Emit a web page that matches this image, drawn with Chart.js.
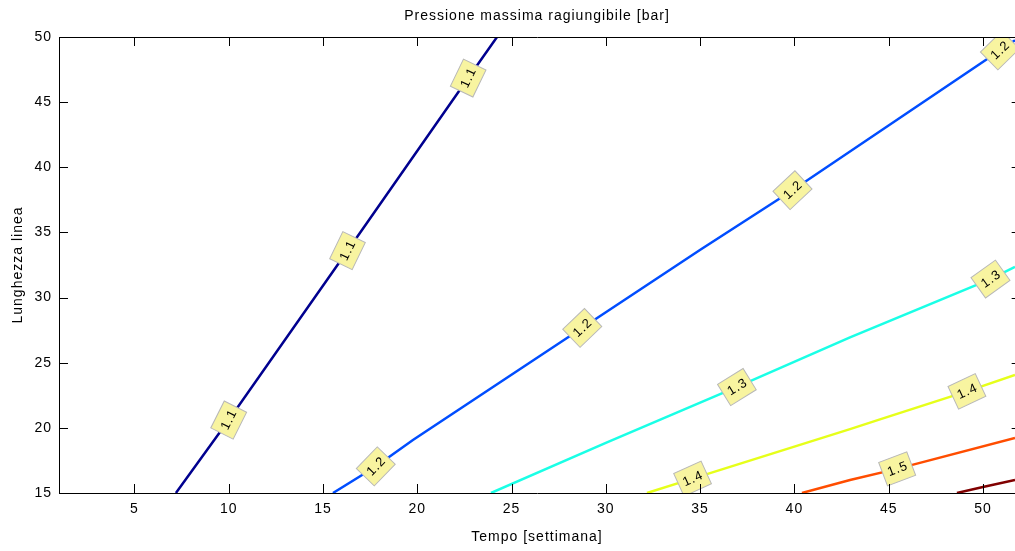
<!DOCTYPE html>
<html>
<head>
<meta charset="utf-8">
<script src="https://cdn.jsdelivr.net/npm/chart.js@4.4.1/dist/chart.umd.min.js"></script>
<style>
	html, body { margin: 0; padding: 0; background: #fff; }
	#wrap { width: 1015px; height: 551px; }
</style>
</head>
<body>
<div id="wrap"><canvas id="chart" width="1015" height="551"></canvas></div>
<script>
'use strict';

const xTicks = [5, 10, 15, 20, 25, 30, 35, 40, 45, 50];
const yTicks = [15, 20, 25, 30, 35, 40, 45, 50];
const xMin = 1, xMax = 51.7, xFullMax = 52;   // right side of the original axes is cut off
const yMin = 15, yMax = 50;

const levels = ['1.1', '1.2', '1.3', '1.4', '1.5', '1.6'];
const levelColors = ['#00008f', '#004dff', '#1affe6', '#e6ff1a', '#ff4d00', '#800000'];

// contour lines (x = week, y = line length)
const c11x = [7.2, 10.0, 16.3, 22.7, 24.23];
const c11y = [15, 20.6, 33.6, 46.85, 50];
const c12x = [15.53, 17.76, 19.77, 28.74, 34.99, 39.92, 51.7];
const c12y = [15, 17.0, 19.07, 27.66, 33.65, 38.26, 49.75];
const c13x = [23.91, 30.0, 36.96, 42.95, 50.37, 51.7];
const c13y = [15, 18.84, 23.14, 26.95, 31.4, 32.35];
const c14x = [32.18, 34.6, 42.95, 44.54, 49.15, 51.7];
const c14y = [15, 16.1, 19.9, 20.65, 22.8, 24.06];
const c15x = [40.4, 42.95, 45.44, 51.7];
const c15y = [15, 16.0, 16.85, 19.22];
const c16x = [48.62, 50.0, 51.7];
const c16y = [15, 15.46, 16.0];

// where the clabel boxes sit (x position along each line)
const lab11 = [10.0, 16.3, 22.7];
const lab12 = [17.8, 28.75, 39.9, 50.9];
const lab13 = [36.95, 50.4];
const lab14 = [34.6, 49.15];
const lab15 = [45.45];
const lab16 = [];

const lineX = [c11x, c12x, c13x, c14x, c15x, c16x];
const lineY = [c11y, c12y, c13y, c14y, c15y, c16y];
const labelsX = [lab11, lab12, lab13, lab14, lab15, lab16];

const FONT = '"Liberation Sans", Arial, Helvetica, sans-serif';

Chart.defaults.color = '#000';
Chart.defaults.font.family = FONT;
Chart.defaults.font.size = 14;

const spacing = {
	id: 'spacing',
	beforeLayout: chart => { chart.ctx.letterSpacing = '1px'; },
	beforeDraw: chart => { chart.ctx.letterSpacing = '1px'; }
};

const contourLabels = {
	id: 'contourLabels',
	afterDatasetsDraw(chart) {
		const { ctx, chartArea, scales: { x, y } } = chart;
		ctx.save();
		ctx.beginPath();
		ctx.rect(chartArea.left, chartArea.top, chartArea.right - chartArea.left, chartArea.bottom - chartArea.top);
		ctx.clip();
		ctx.font = '13px ' + FONT;
		ctx.letterSpacing = '1px';
		chart.data.datasets.forEach((ds, i) => {
			const pts = ds.data;
			labelsX[i].forEach(lx => {
				let k = 0;
				while (k < pts.length - 2 && pts[k + 1].x < lx) k++;
				const a = pts[k], b = pts[k + 1];
				const t = (lx - a.x) / (b.x - a.x);
				const ly = a.y + t * (b.y - a.y);
				// angle in data units, the way the original labels are turned
				const ang = Math.atan2(b.y - a.y, b.x - a.x);
				const px = x.getPixelForValue(lx), py = y.getPixelForValue(ly);
				const w = ctx.measureText(levels[i]).width + 9, h = 25;
				ctx.save();
				ctx.translate(px, py);
				ctx.rotate(-ang);
				ctx.fillStyle = '#f8f4a0';
				ctx.strokeStyle = '#b8b8b8';
				ctx.lineWidth = 1;
				ctx.fillRect(-w / 2, -h / 2, w, h);
				ctx.strokeRect(-w / 2, -h / 2, w, h);
				ctx.fillStyle = '#000';
				ctx.textAlign = 'center';
				ctx.textBaseline = 'middle';
				ctx.fillText(levels[i], 0.5, 0.5);
				ctx.restore();
			});
		});
		ctx.restore();
	}
};

const axesFrame = {
	id: 'axesFrame',
	afterDraw(chart) {
		const { ctx, chartArea: { left, top, bottom }, scales: { x, y } } = chart;
		const rightEdge = x.getPixelForValue(xFullMax);
		const tl = 9;
		ctx.save();
		ctx.strokeStyle = '#000';
		ctx.lineWidth = 1;
		ctx.beginPath();
		ctx.moveTo(left, top + 0.5);
		ctx.lineTo(rightEdge, top + 0.5);
		ctx.moveTo(rightEdge - 0.5, top);
		ctx.lineTo(rightEdge - 0.5, bottom);
		xTicks.forEach(v => {
			const px = Math.round(x.getPixelForValue(v)) + 0.5;
			ctx.moveTo(px, bottom);
			ctx.lineTo(px, bottom - tl);
			ctx.moveTo(px, top);
			ctx.lineTo(px, top + tl);
		});
		yTicks.forEach(v => {
			const py = Math.round(y.getPixelForValue(v)) + 0.5;
			ctx.moveTo(left, py);
			ctx.lineTo(left + tl, py);
			ctx.moveTo(rightEdge, py);
			ctx.lineTo(rightEdge - tl, py);
		});
		ctx.stroke();
		ctx.restore();
	}
};

const datasets = levels.map((lv, i) => ({
	label: lv,
	data: lineX[i].map((v, j) => ({ x: v, y: lineY[i][j] })),
	showLine: true,
	borderColor: levelColors[i],
	backgroundColor: levelColors[i],
	borderWidth: 2.5,
	pointRadius: 0,
	tension: 0
}));

new Chart(document.getElementById('chart'), {
	type: 'scatter',
	data: { datasets },
	options: {
		responsive: false,
		animation: false,
		devicePixelRatio: 1,
		layout: { padding: 0 },
		plugins: {
			legend: { display: false },
			tooltip: { enabled: false },
			title: {
				display: true,
				fullSize: false,
				text: 'Pressione massima ragiungibile [bar]',
				color: '#000',
				font: { size: 14, weight: 'normal' },
				padding: { top: 7.6, bottom: 12.6 }
			}
		},
		scales: {
			x: {
				type: 'linear',
				min: xMin,
				max: xMax,
				grid: { display: false, drawTicks: false },
				border: { display: true, color: '#000', width: 1 },
				ticks: { padding: 8, color: '#000' },
				afterBuildTicks: s => { s.ticks = xTicks.map(v => ({ value: v })); },
				afterFit: s => { s.height = 58; s.paddingLeft = 0; s.paddingRight = 0; },
				title: {
					display: true,
					text: 'Tempo [settimana]',
					color: '#000',
					padding: { top: 0, bottom: 5.6 }
				}
			},
			y: {
				type: 'linear',
				min: yMin,
				max: yMax,
				grid: { display: false, drawTicks: false },
				border: { display: true, color: '#000', width: 1 },
				ticks: { padding: 7, color: '#000' },
				afterBuildTicks: s => { s.ticks = yTicks.map(v => ({ value: v })); },
				afterFit: s => { s.width = 59; s.paddingTop = 0; s.paddingBottom = 0; },
				title: {
					display: true,
					text: 'Lunghezza linea',
					color: '#000',
					padding: { top: 9.6, bottom: 0 }
				}
			}
		}
	},
	plugins: [spacing, contourLabels, axesFrame]
});
</script>
</body>
</html>
